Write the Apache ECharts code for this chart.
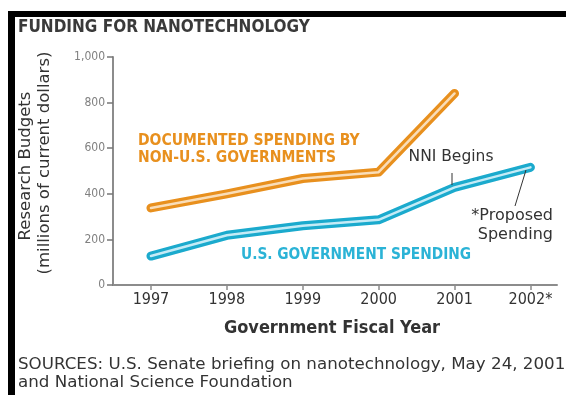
<!DOCTYPE html>
<html><head><meta charset="utf-8">
<script src="https://cdn.jsdelivr.net/npm/echarts@6/dist/echarts.min.js"></script>
<style>html,body{margin:0;padding:0;background:#fff}#c{width:566px;height:395px}</style>
</head><body><div id="c"></div>
<script>
const years = [1997, 1998, 1999, 2000, 2001, 2002];
const xTickLabels = ['1997', '1998', '1999', '2000', '2001', '2002*'];
const nonUS = [338, 400, 467, 495, 840];
const usGov = [127, 218, 260, 286, 428, 516];

const ORANGE = '#E8901E', ORANGE_IN = '#F9DDB8';
const BLUE = '#1BAACD', BLUE_IN = '#C4EBF6';
const COND = '"DejaVu Sans Condensed", "DejaVu Sans", sans-serif';
const REG = '"DejaVu Sans", sans-serif';

const chart = echarts.init(document.getElementById('c'));
const pair = (vals) => vals.map((v, i) => [years[i], v]);

function lineSeries(name, vals, color, width, z) {
  return {
    name, type: 'line', data: pair(vals), showSymbol: false, symbol: 'none', z,
    silent: true, animation: false,
    lineStyle: { color, width, cap: 'round', join: 'round' }
  };
}

chart.setOption({
  animation: false,
  grid: { left: 113, top: 57, right: 9, bottom: 110 },
  xAxis: {
    type: 'value', min: 1996.5, max: 2002.35,
    splitLine: { show: false },
    axisLine: { lineStyle: { color: '#8c8c8c', width: 2 } },
    axisTick: { show: true, length: 5, customValues: years, lineStyle: { color: '#8c8c8c', width: 1.5 } },
    axisLabel: {
      customValues: years, margin: 7, color: '#333', fontFamily: COND, fontSize: 16,
      formatter: (v) => xTickLabels[years.indexOf(Math.round(v))] || ''
    }
  },
  yAxis: {
    type: 'value', min: 0, max: 1000, interval: 200,
    splitLine: { show: false },
    axisLine: { show: true, lineStyle: { color: '#8c8c8c', width: 2 } },
    axisTick: { show: true, length: 6, lineStyle: { color: '#777', width: 1.5 } },
    axisLabel: {
      margin: 8, color: '#808080', fontFamily: COND, fontSize: 12,
      formatter: (v) => v.toLocaleString('en-US')
    }
  },
  series: [
    lineSeries('Non-U.S.', nonUS, ORANGE, 9, 2),
    lineSeries('Non-U.S. inner', nonUS, ORANGE_IN, 2.5, 3),
    lineSeries('U.S.', usGov, BLUE, 9, 2),
    lineSeries('U.S. inner', usGov, BLUE_IN, 2.5, 3)
  ],
  graphic: [
    { type: 'rect', shape: { x: 8, y: 11, width: 558, height: 6 }, style: { fill: '#000' } },
    { type: 'rect', shape: { x: 8, y: 11, width: 7, height: 384 }, style: { fill: '#000' } },
    { type: 'text', left: 18, top: 19, style: { text: 'FUNDING FOR NANOTECHNOLOGY', font: 'bold 17px ' + COND, fill: '#3a3a3a' } },
    { type: 'text', x: 26, y: 166, rotation: Math.PI / 2, style: { text: 'Research Budgets', font: '16.5px ' + REG, fill: '#333', align: 'center', verticalAlign: 'middle' } },
    { type: 'text', x: 45, y: 163, rotation: Math.PI / 2, style: { text: '(millions of current dollars)', font: '16.5px ' + REG, fill: '#333', align: 'center', verticalAlign: 'middle' } },
    { type: 'text', x: 332, y: 328, style: { text: 'Government Fiscal Year', font: 'bold 18px ' + COND, fill: '#333', align: 'center', verticalAlign: 'middle' } },
    { type: 'text', x: 18, y: 365, style: { text: 'SOURCES: U.S. Senate briefing on nanotechnology, May 24, 2001', font: '16.7px ' + REG, fill: '#333', verticalAlign: 'middle' } },
    { type: 'text', x: 18, y: 383, style: { text: 'and National Science Foundation', font: '16.7px ' + REG, fill: '#333', verticalAlign: 'middle' } },
    { type: 'text', x: 138, y: 141, style: { text: 'DOCUMENTED SPENDING BY', font: 'bold 15.5px ' + COND, fill: ORANGE, verticalAlign: 'middle' } },
    { type: 'text', x: 138, y: 158, style: { text: 'NON-U.S. GOVERNMENTS', font: 'bold 15.5px ' + COND, fill: ORANGE, verticalAlign: 'middle' } },
    { type: 'text', x: 241, y: 255, style: { text: 'U.S. GOVERNMENT SPENDING', font: 'bold 15.3px ' + COND, fill: '#2BB3D6', verticalAlign: 'middle' } },
    { type: 'text', x: 451, y: 157, style: { text: 'NNI Begins', font: '15.5px ' + REG, fill: '#333', align: 'center', verticalAlign: 'middle' } },
    { type: 'text', x: 553, y: 216, style: { text: '*Proposed', font: '16px ' + REG, fill: '#333', align: 'right', verticalAlign: 'middle' } },
    { type: 'text', x: 553, y: 235, style: { text: 'Spending', font: '16px ' + REG, fill: '#333', align: 'right', verticalAlign: 'middle' } },
    { type: 'line', shape: { x1: 452, y1: 173, x2: 452, y2: 185 }, style: { stroke: '#333', lineWidth: 1 }, z: 10 },
    { type: 'line', shape: { x1: 526, y1: 170, x2: 515, y2: 206 }, style: { stroke: '#333', lineWidth: 1 }, z: 10 }
  ]
});
</script></body></html>
